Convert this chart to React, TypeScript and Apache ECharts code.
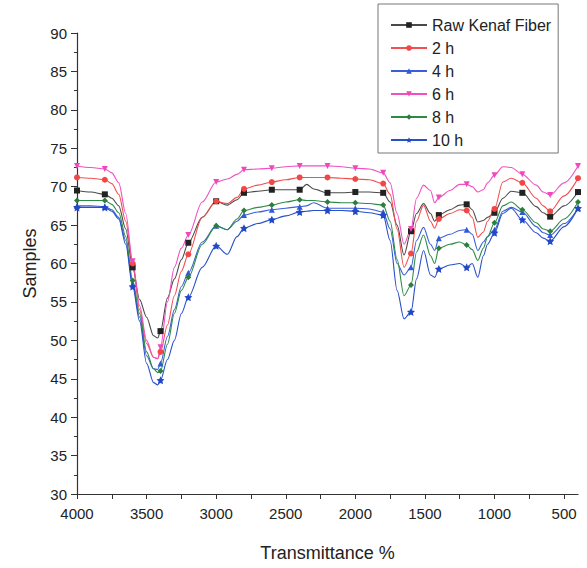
import React, { useEffect, useRef } from "react";
import * as echarts from "echarts";

const wavenumbers = [4000, 3900, 3800, 3750, 3700, 3650, 3600, 3550, 3500, 3450, 3420, 3400, 3350, 3300, 3250, 3200, 3100, 3000, 2920, 2850, 2800, 2700, 2600, 2500, 2400, 2350, 2300, 2200, 2100, 2000, 1900, 1800, 1750, 1700, 1650, 1600, 1560, 1510, 1460, 1430, 1400, 1320, 1250, 1200, 1160, 1120, 1080, 1050, 1000, 940, 880, 800, 700, 650, 600, 500, 400];

const rawKenaf = [69.5, 69.3, 69.0, 68.5, 67.5, 64.5, 59.5, 55.3, 53.0, 50.6, 50.3, 51.2, 55.5, 58.0, 60.5, 62.7, 66.0, 68.1, 67.6, 68.3, 69.2, 69.4, 69.6, 69.6, 69.6, 70.3, 69.7, 69.2, 69.2, 69.3, 69.3, 69.2, 68.0, 65.0, 61.1, 64.2, 66.5, 67.8, 66.5, 65.5, 66.3, 67.0, 67.6, 67.7, 67.0, 65.4, 65.6, 66.0, 66.6, 68.5, 69.4, 69.2, 67.4, 66.6, 66.1, 67.5, 69.3];
const h2 = [71.2, 71.1, 70.9, 70.4, 69.0, 65.5, 60.0, 54.0, 49.6, 47.8, 47.6, 48.5, 52.0, 55.8, 59.0, 61.2, 66.0, 68.1, 67.8, 68.6, 69.7, 70.2, 70.6, 70.9, 71.2, 71.2, 71.2, 71.2, 71.1, 71.0, 70.9, 70.4, 69.0, 64.5, 59.5, 61.3, 65.5, 67.6, 65.5, 64.6, 65.8, 66.5, 67.0, 66.9, 66.0, 63.4, 64.1, 65.5, 67.1, 70.6, 71.1, 70.5, 68.5, 67.5, 66.8, 68.8, 71.1];
const h4 = [67.5, 67.5, 67.4, 67.0, 66.0, 63.0, 57.3, 53.0, 48.0, 46.3, 46.2, 47.0, 50.5, 54.0, 57.0, 58.8, 62.8, 64.9, 64.4, 65.5, 66.3, 66.7, 67.0, 67.2, 67.4, 67.5, 67.9, 67.2, 67.2, 67.2, 67.1, 66.7, 64.5, 60.0, 58.5, 59.5, 63.0, 64.7, 62.5, 61.7, 63.3, 63.8, 64.3, 64.4, 63.8, 61.7, 62.8, 63.5, 64.4, 66.8, 67.3, 66.7, 64.8, 64.0, 63.7, 65.2, 67.2];
const h6 = [72.7, 72.5, 72.3, 71.8, 70.5, 66.5, 60.3, 54.5, 50.0, 47.8, 47.6, 49.1, 55.0, 59.5, 62.0, 63.7, 68.0, 70.6, 71.0, 71.6, 72.2, 72.3, 72.4, 72.6, 72.7, 72.7, 72.7, 72.7, 72.6, 72.4, 72.3, 71.8, 70.5, 66.5, 62.5, 64.5, 68.5, 70.2, 69.5, 67.9, 68.6, 69.5, 70.3, 70.3, 70.0, 69.3, 69.6, 70.5, 71.5, 72.6, 72.5, 71.6, 70.2, 69.3, 68.9, 70.5, 72.7];
const h8 = [68.2, 68.2, 68.2, 67.7, 66.6, 63.5, 57.8, 53.5, 48.5, 46.3, 45.8, 46.0, 49.5, 53.5, 56.5, 58.2, 62.5, 64.9, 64.4, 65.8, 66.9, 67.3, 67.6, 68.0, 68.3, 68.2, 68.2, 68.0, 67.9, 67.9, 67.8, 67.6, 65.5, 60.5, 55.8, 57.2, 61.5, 63.7, 61.0, 60.0, 62.0, 62.5, 62.8, 62.4, 61.8, 60.4, 62.0, 63.5, 65.3, 67.5, 68.0, 67.0, 65.3, 64.5, 64.2, 65.8, 68.0];
const h10 = [67.3, 67.3, 67.3, 66.8, 65.8, 62.5, 57.0, 52.5, 47.0, 44.5, 44.2, 44.8, 47.5, 50.0, 53.5, 55.6, 59.5, 62.3, 61.2, 63.5, 64.6, 65.2, 65.7, 66.2, 66.7, 66.8, 66.9, 66.9, 66.9, 66.8, 66.6, 66.3, 63.0, 56.5, 52.8, 53.7, 58.0, 61.7, 58.5, 58.2, 59.3, 59.8, 60.0, 59.5, 60.0, 58.2, 61.0, 62.5, 64.0, 66.5, 67.2, 65.7, 64.0, 63.3, 62.9, 64.8, 67.2];

const seriesNames = ["Raw Kenaf Fiber", "2 h", "4 h", "6 h", "8 h", "10 h"];
const xMajorTicks = [4000, 3500, 3000, 2500, 2000, 1500, 1000, 500];
const xAllTicks = [4000, 3750, 3500, 3250, 3000, 2750, 2500, 2250, 2000, 1750, 1500, 1250, 1000, 750, 500];

const FONT = "'Liberation Sans', Arial, sans-serif";
const STAR =
  "path://M0,-10 L2.9,-4 L9.5,-3.1 L4.7,1.5 L5.9,8.1 L0,5 L-5.9,8.1 L-4.7,1.5 L-9.5,-3.1 L-2.9,-4 Z";

export default function App() {
  const ref = useRef<HTMLDivElement>(null);
  useEffect(() => {
    if (!ref.current) return;
    const chart = echarts.init(ref.current, null, { renderer: "svg" });
    const values = [rawKenaf, h2, h4, h6, h8, h10];
    const colors = ["#4a4a4a", "#f25050", "#3a5fd8", "#f050c0", "#2e8b45", "#2850c8"];
    const markerColors = ["#222222", "#f04848", "#3358d8", "#f048bc", "#2e7d40", "#2248c8"];
    const symbols = ["rect", "circle", "triangle", "triangle", "diamond", STAR];
    const rotates = [0, 0, 0, 180, 0, 0];
    const series = values.map((arr, i) => ({
      name: seriesNames[i],
      type: "line",
      data: wavenumbers.map((w, j) => [w, arr[j]]),
      symbol: symbols[i],
      symbolRotate: rotates[i],
      symbolSize: (v: number[]) => (v[0] % 200 === 0 ? (i === 5 ? 8 : 6) : 0),
      showAllSymbol: true,
      smooth: 0.3,
      smoothMonotone: "x",
      lineStyle: { width: 1.1, color: colors[i] },
      itemStyle: { color: markerColors[i] },
      color: colors[i],
      emphasis: { disabled: true },
    }));
    chart.setOption({
      animation: false,
      backgroundColor: "#ffffff",
      textStyle: { fontFamily: FONT },
      grid: { left: 77, right: 9, top: 33, bottom: 74, containLabel: false },
      legend: {
        orient: "vertical",
        left: 378,
        top: 4,
        padding: [13, 7, 5, 12],
        borderColor: "#777",
        borderWidth: 1,
        itemWidth: 36,
        itemHeight: 7,
        itemGap: 7,
        textStyle: { fontSize: 16, color: "#222", fontFamily: FONT, lineHeight: 16 },
        data: seriesNames,
      },
      xAxis: {
        type: "value",
        min: 400,
        max: 4000,
        inverse: true,
        name: "Transmittance %",
        nameLocation: "middle",
        nameGap: 50,
        nameTextStyle: { fontSize: 18, color: "#222", fontFamily: FONT },
        axisLine: { show: true, lineStyle: { color: "#333", width: 1.2 } },
        axisTick: { show: true, length: 5, customValues: xAllTicks, lineStyle: { color: "#333" } },
        axisLabel: {
          customValues: xMajorTicks,
          fontSize: 15,
          color: "#222",
          margin: 12,
          fontFamily: FONT,
          formatter: (v: number) => String(v),
        },
        splitLine: { show: false },
      },
      yAxis: {
        type: "value",
        min: 30,
        max: 90,
        interval: 5,
        name: "Samples",
        nameLocation: "middle",
        nameGap: 38,
        nameTextStyle: { fontSize: 18, color: "#222", fontFamily: FONT },
        axisLine: { show: true, lineStyle: { color: "#333", width: 1.2 } },
        axisTick: { show: true, length: 6, lineStyle: { color: "#333" } },
        minorTick: { show: true, splitNumber: 2, length: 3, lineStyle: { color: "#333" } },
        axisLabel: { fontSize: 15, color: "#222", margin: 10, fontFamily: FONT },
        splitLine: { show: false },
      },
      series,
    });
    return () => chart.dispose();
  }, []);
  return (
    <div
      ref={ref}
      style={{ position: "fixed", left: 0, top: 0, width: 587, height: 568, background: "#fff" }}
    />
  );
}
